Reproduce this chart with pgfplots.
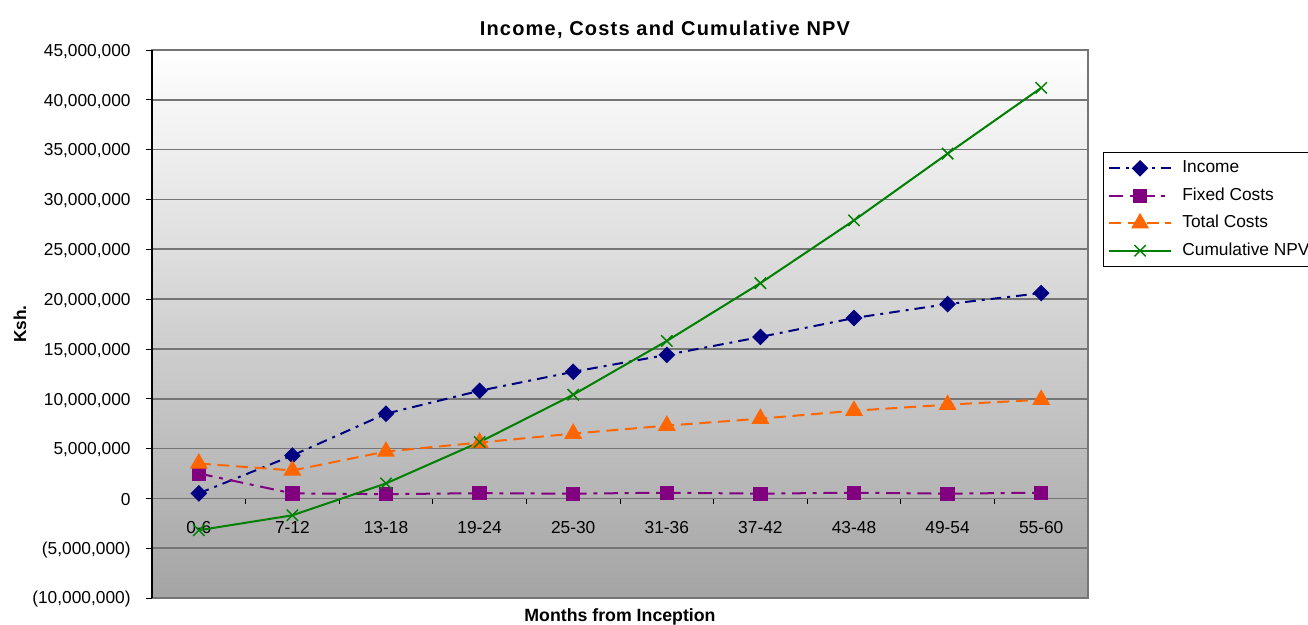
\documentclass[border=0pt]{standalone}
\usepackage{pgfplots}
\pgfplotsset{compat=1.18}
\usepackage{fontspec}
\setmainfont{Liberation Sans}
\newfontfamily\titlefont[LetterSpace=6]{Liberation Sans}
\definecolor{incomec}{HTML}{000080}
\definecolor{fixedc}{HTML}{800080}
\definecolor{totalc}{HTML}{FF6600}
\definecolor{npvc}{HTML}{008000}
\definecolor{gridc}{HTML}{757575}
\definecolor{bgbot}{HTML}{A4A4A4}
\begin{document}
\begin{tikzpicture}[x=1pt,y=1pt]
\begin{axis}[
  at={(114pt,19.5pt)}, anchor=south west,
  scale only axis, width=702pt, height=411pt,
  xmin=-0.5, xmax=9.5, ymin=-10000000, ymax=45000000,
  axis x line=middle, axis y line=left,
  axis line style={-},
  x axis line style={gridc, line width=1.2pt},
  y axis line style={black, line width=0.8pt},
  axis background/.style={top color=white, bottom color=bgbot, draw=gridc, line width=1.2pt},
  ymajorgrids, grid style={gridc, line width=1.2pt},
  tick align=outside,
  tick style={black, line width=0.6pt},
  major tick length=4.5pt, minor tick length=4pt,
  xtick={0,1,2,3,4,5,6,7,8,9},
  xticklabels={0-6,7-12,13-18,19-24,25-30,31-36,37-42,43-48,49-54,55-60},
  minor xtick={0.5,1.5,2.5,3.5,4.5,5.5,6.5,7.5,8.5},
  major x tick style={draw=none},
  xticklabel style={anchor=base, yshift=-22pt, font=\fontsize{13}{15}\selectfont},
  ytick={-10000000,-5000000,0,5000000,10000000,15000000,20000000,25000000,30000000,35000000,40000000,45000000},
  yticklabels={{(10,000,000)},{(5,000,000)},0,{5,000,000},{10,000,000},{15,000,000},{20,000,000},{25,000,000},{30,000,000},{35,000,000},{40,000,000},{45,000,000}},
  scaled y ticks=false,
  yticklabel style={font=\fontsize{13}{15}\selectfont, xshift=-8pt, yshift=-1pt},
  title={Income, Costs and Cumulative NPV},
  title style={at={(axis description cs:0.548,1.0215)}, anchor=center, font=\titlefont\bfseries\fontsize{15}{17}\selectfont},
  xlabel={Months from Inception},
  xlabel style={at={(axis description cs:0.5,-0.034)}, anchor=center, font=\bfseries\fontsize{13.3}{15}\selectfont},
  ylabel={Ksh.},
  ylabel style={at={(axis description cs:-0.141,0.5)}, anchor=center, rotate=0, font=\bfseries\fontsize{13}{15}\selectfont},
  legend style={at={(axis description cs:1.016,0.814)}, anchor=north west,
    draw=black, line width=0.6pt, fill=white,
    font=\fontsize{13}{15}\selectfont,
    inner xsep=3.75pt, inner ysep=5.5pt,
    nodes={inner sep=0pt, text height=10pt, text depth=3pt},
    row sep=7.6pt, column sep=8pt},
  legend cell align=left,
  legend image code/.code={\draw[mark repeat=2,mark phase=2,#1] plot coordinates {(0pt,0pt) (23pt,0pt) (46pt,0pt)};},
]
\addplot[incomec, line width=1.5pt, dash pattern=on 8pt off 4.5pt on 2.2pt off 4.5pt,
  mark=diamond*, mark size=5.2pt, mark options={solid, fill=incomec, xscale=1.33}]
  coordinates {(0,500000) (1,4300000) (2,8500000) (3,10800000) (4,12700000) (5,14400000) (6,16200000) (7,18100000) (8,19500000) (9,20600000)};
\addlegendentry{Income}
\addplot[fixedc, line width=1.5pt, dash pattern=on 10.5pt off 5pt on 3pt off 5pt,
  mark=square*, mark size=4.6pt, mark options={solid, fill=fixedc}]
  coordinates {(0,2500000) (1,500000) (2,420000) (3,520000) (4,470000) (5,570000) (6,470000) (7,570000) (8,470000) (9,570000)};
\addlegendentry{Fixed Costs}
\addplot[totalc, line width=1.5pt, dash pattern=on 9pt off 5pt,
  mark=triangle*, mark size=6.3pt, mark options={solid, fill=totalc}]
  coordinates {(0,3500000) (1,2800000) (2,4700000) (3,5600000) (4,6500000) (5,7300000) (6,8000000) (7,8800000) (8,9400000) (9,9900000)};
\addlegendentry{Total Costs}
\addplot[npvc, line width=1.5pt, solid,
  mark=x, mark size=6pt, mark options={solid, line width=1.1pt}]
  coordinates {(0,-3200000) (1,-1700000) (2,1500000) (3,5650000) (4,10400000) (5,15800000) (6,21600000) (7,27900000) (8,34600000) (9,41200000)};
\addlegendentry{Cumulative NPV}
\end{axis}
\pgfresetboundingbox
\path (0,0) rectangle (981pt,468pt);
\end{tikzpicture}
\end{document}
